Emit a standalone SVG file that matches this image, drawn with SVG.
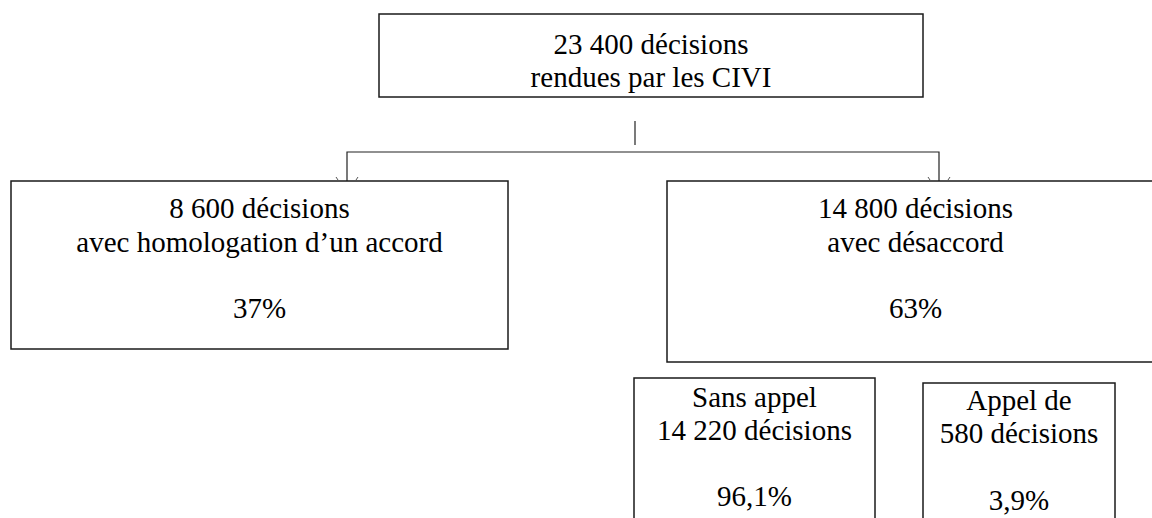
<svg xmlns="http://www.w3.org/2000/svg" width="1152" height="518" viewBox="0 0 1152 518">
<style>
.box{fill:#fff;stroke:#1a1a1a;stroke-width:1.5}
.c{fill:none;stroke:#222;stroke-width:1.2}
.tick{fill:none;stroke:#555;stroke-width:1}
</style>
<rect width="1152" height="518" fill="#fff"/>
<g class="connectors">
<line class="c" x1="635" y1="121" x2="635" y2="145"/>
<polyline class="c" points="347,181 347,152 939,152 939,181"/>
<line class="tick" x1="336" y1="177" x2="338" y2="180"/>
<line class="tick" x1="358" y1="177" x2="356" y2="180"/>
<line class="tick" x1="928" y1="177" x2="930" y2="180"/>
<line class="tick" x1="950" y1="177" x2="948" y2="180"/>
</g>
<g class="node">
<rect id="total" class="box" x="379" y="14" width="544" height="83"/>
<text x="651" y="54" font-size="29" text-anchor="middle" font-family="Liberation Serif">23 400 décisions</text>
<text x="651" y="87" font-size="29" text-anchor="middle" font-family="Liberation Serif">rendues par les CIVI</text>
</g>
<g class="node">
<rect id="accord" class="box" x="11" y="181" width="497" height="168"/>
<text x="259.5" y="218" font-size="29" text-anchor="middle" font-family="Liberation Serif">8 600 décisions</text>
<text x="259.5" y="252" font-size="29" text-anchor="middle" font-family="Liberation Serif">avec homologation d’un accord</text>
<text x="259.5" y="318" font-size="29" text-anchor="middle" font-family="Liberation Serif">37%</text>
</g>
<g class="node">
<rect id="desaccord" class="box" x="667" y="181" width="497" height="181"/>
<text x="915.5" y="218" font-size="29" text-anchor="middle" font-family="Liberation Serif">14 800 décisions</text>
<text x="915.5" y="252" font-size="29" text-anchor="middle" font-family="Liberation Serif">avec désaccord</text>
<text x="915.5" y="318" font-size="29" text-anchor="middle" font-family="Liberation Serif">63%</text>
</g>
<g class="node">
<rect id="sans-appel" class="box" x="634" y="378" width="241" height="150"/>
<text x="754.5" y="407" font-size="29" text-anchor="middle" font-family="Liberation Serif">Sans appel</text>
<text x="754.5" y="440" font-size="29" text-anchor="middle" font-family="Liberation Serif">14 220 décisions</text>
<text x="754.5" y="506" font-size="29" text-anchor="middle" font-family="Liberation Serif">96,1%</text>
</g>
<g class="node">
<rect id="appel" class="box" x="923" y="383" width="192" height="150"/>
<text x="1019" y="410" font-size="29" text-anchor="middle" font-family="Liberation Serif">Appel de</text>
<text x="1019" y="443" font-size="29" text-anchor="middle" font-family="Liberation Serif">580 décisions</text>
<text x="1019" y="510" font-size="29" text-anchor="middle" font-family="Liberation Serif">3,9%</text>
</g>
</svg>
